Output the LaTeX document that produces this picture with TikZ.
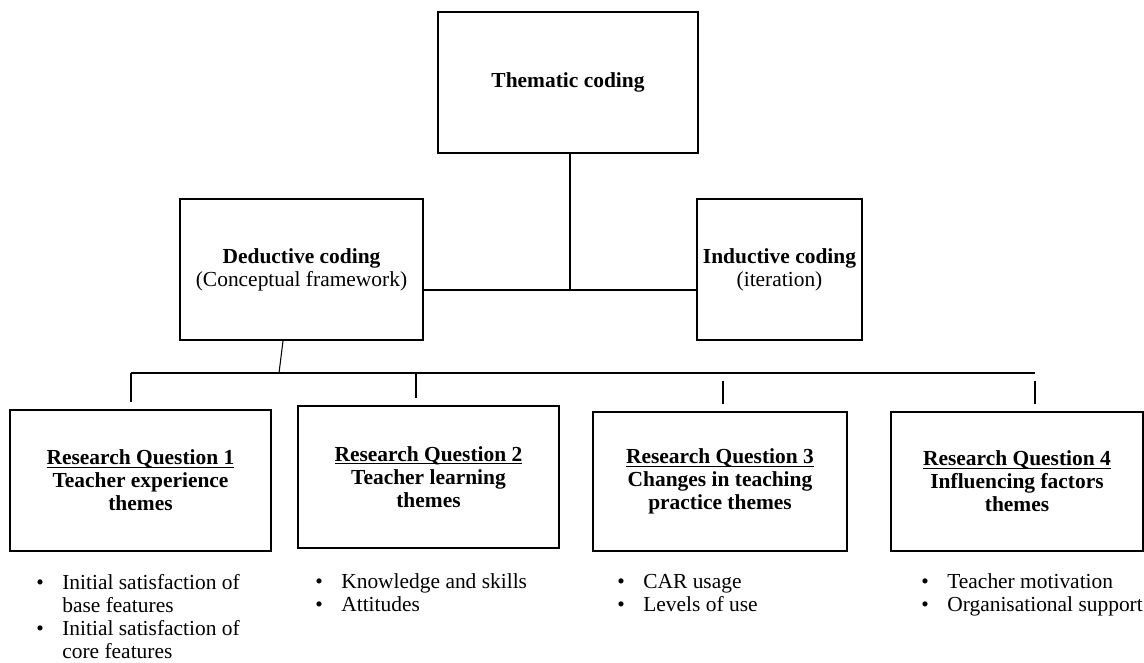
\documentclass[tikz,border=0pt]{standalone}
\usepackage{fontspec}
\setmainfont{Liberation Serif}
\usetikzlibrary{positioning}

\newcommand{\rqtitle}[1]{\underline{\smash{#1}}\vphantom{#1}}

\begin{document}
\begin{tikzpicture}[x=0.02cm, y=-0.02cm,
  font=\fontsize{12.2}{13.1}\selectfont,
  box/.style={draw, line width=1.3pt, align=center, inner sep=0pt},
  link/.style={line width=0.6pt},
  list/.style={inner sep=0pt, anchor=base west}]

\useasboundingbox (0,0) rectangle (1144,663);

% Top level
\node[box, minimum width=5.2cm, minimum height=2.82cm] (TC) at (568,82.5) {\textbf{Thematic coding}};

% Second level
\node[box, minimum width=4.86cm, minimum height=2.82cm] (DC) at (301.5,269.5)
  {\textbf{Deductive coding}\\(Conceptual framework)};
\node[box, minimum width=3.3cm, minimum height=2.82cm] (IC) at (779.5,269.5)
  {\textbf{Inductive coding}\\(iteration)};

% Research questions
\node[box, minimum width=5.22cm, minimum height=2.82cm] (RQ1) at (140.5,480.5)
  {\textbf{\rqtitle{Research Question 1}}\\\textbf{Teacher experience}\\\textbf{themes}};
\node[box, minimum width=5.22cm, minimum height=2.84cm] (RQ2) at (428.5,477)
  {\textbf{\rqtitle{Research Question 2}}\\\textbf{Teacher learning}\\\textbf{themes}};
\node[box, minimum width=5.08cm, minimum height=2.78cm] (RQ3) at (720,481.5)
  {\textbf{\rqtitle{Research Question 3}}\\\textbf{Changes in teaching}\\\textbf{practice themes}};
\node[box, minimum width=5.04cm, minimum height=2.78cm] (RQ4) at (1017,481.5)
  {\textbf{\rqtitle{Research Question 4}}\\\textbf{Influencing factors}\\\textbf{themes}};

% Theme lists
\node[list] (L1) at (36,589) {\begin{tabular}[t]{@{}p{0.52cm}@{}l@{}}
  \textbullet & Initial satisfaction of\\ & base features\\
  \textbullet & Initial satisfaction of\\ & core features\end{tabular}};
\node[list] (L2) at (315,588) {\begin{tabular}[t]{@{}p{0.52cm}@{}l@{}}
  \textbullet & Knowledge and skills\\ \textbullet & Attitudes\end{tabular}};
\node[list] (L3) at (617,588) {\begin{tabular}[t]{@{}p{0.52cm}@{}l@{}}
  \textbullet & CAR usage\\ \textbullet & Levels of use\end{tabular}};
\node[list] (L4) at (921,588) {\begin{tabular}[t]{@{}p{0.52cm}@{}l@{}}
  \textbullet & Teacher motivation\\ \textbullet & Organisational support\end{tabular}};

% Thematic -> deductive / inductive
\coordinate (mid) at (570,290);
\draw[link] (TC.south -| mid) -- (mid);
\draw[link] (DC.east |- mid) -- (IC.west |- mid);

% Deductive -> research questions
\coordinate (dd) at (279,373);
\draw[link] ([xshift=-0.37cm]DC.south) -- (dd);
\foreach \n/\x/\a in {1/131/373, 2/416/373, 3/723/381, 4/1035/381} {
  \coordinate (d\n) at (\x,\a);
  \draw[link] (d\n) -- ([yshift=0.14cm]d\n |- RQ\n.north);
}
\draw[link] (d1) -- (d4 |- d1);

\end{tikzpicture}
\end{document}
